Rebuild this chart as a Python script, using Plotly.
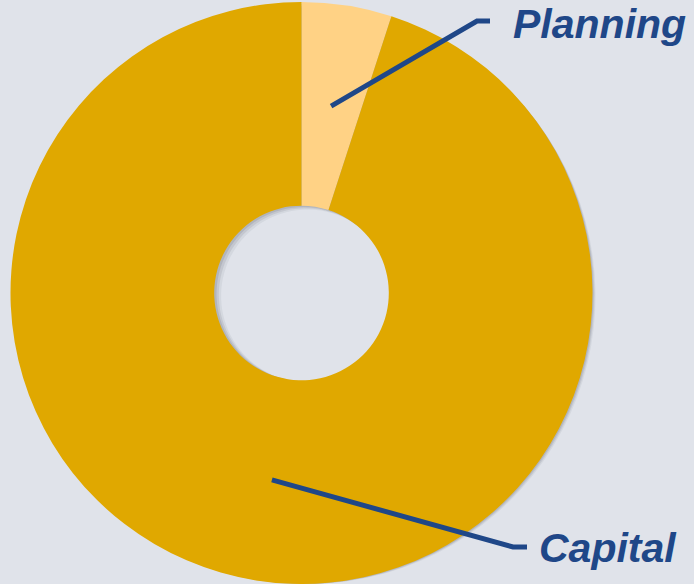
import math
import plotly.graph_objects as go

categories = ["Planning", "Capital"]
values = [5, 95]
colors = ["#FFD285", "#E0A800"]

W, H = 694, 584
cx, cy, R = 301.5, 293.0, 291.0
hole = 0.30
text_color = "#1F4788"

def dom(dx=0.0, dy=0.0):
    x0 = (cx - R + dx) / W
    x1 = (cx + R + dx) / W
    y0 = (H - (cy + dy) - R) / H
    y1 = (H - (cy + dy) + R) / H
    return dict(x=[max(0, x0), min(1, x1)], y=[max(0, y0), min(1, y1)])

fig = go.Figure()

# soft shadow layers
for off, a in [(6, 0.08), (4, 0.12), (2, 0.16)]:
    fig.add_trace(go.Pie(
        labels=categories, values=values, sort=False, direction="clockwise",
        hole=hole, domain=dom(off, off), textinfo="none", hoverinfo="skip",
        marker=dict(colors=[f"rgba(80,85,100,{a})"] * 2, line=dict(width=0)),
        showlegend=False,
    ))

fig.add_trace(go.Pie(
    labels=categories, values=values, sort=False, direction="clockwise",
    hole=hole, domain=dom(), textinfo="none", hoverinfo="label+percent",
    marker=dict(colors=colors, line=dict(width=0)),
    showlegend=False,
))

def px2paper(x, y):
    return x / W, 1 - y / H

# leader lines start at the middle of each slice (mid-angle, mid-radius)
total = sum(values)
rmid = (R + R * hole) / 2
label_ends = {"Planning": (477, 21, 490), "Capital": (513, 547, 527)}
label_text_pos = {"Planning": (511, 24), "Capital": (537, 548)}
shapes = []
annotations = []
cum = 0
for cat, v in zip(categories, values):
    mid = (cum + v / 2) / total * 2 * math.pi
    cum += v
    sx = cx + rmid * math.sin(mid)
    sy = cy - rmid * math.cos(mid)
    ex, ey, hx = label_ends[cat]
    p0 = px2paper(sx, sy)
    p1 = px2paper(ex, ey)
    p2 = px2paper(hx, ey)
    shapes.append(dict(
        type="path", xref="paper", yref="paper",
        path=f"M {p0[0]} {p0[1]} L {p1[0]} {p1[1]} L {p2[0]} {p2[1]}",
        line=dict(color=text_color, width=5),
    ))
    tx, ty = label_text_pos[cat]
    t = px2paper(tx, ty)
    annotations.append(dict(
        x=t[0], y=t[1], xref="paper", yref="paper", xanchor="left", yanchor="middle",
        text=f"<b><i>{cat}</i></b>", showarrow=False,
        font=dict(family="Liberation Sans, Arial, sans-serif", size=41, color=text_color),
    ))

fig.update_layout(
    width=W, height=H,
    margin=dict(l=0, r=0, t=0, b=0),
    paper_bgcolor="#E0E3EA",
    plot_bgcolor="#E0E3EA",
    shapes=shapes,
    annotations=annotations,
)

fig.write_html(
    "out.html",
    config={"displayModeBar": False},
    post_script="document.body.style.margin='0';document.body.style.background='#E0E3EA';document.body.style.overflow='hidden';",
)
